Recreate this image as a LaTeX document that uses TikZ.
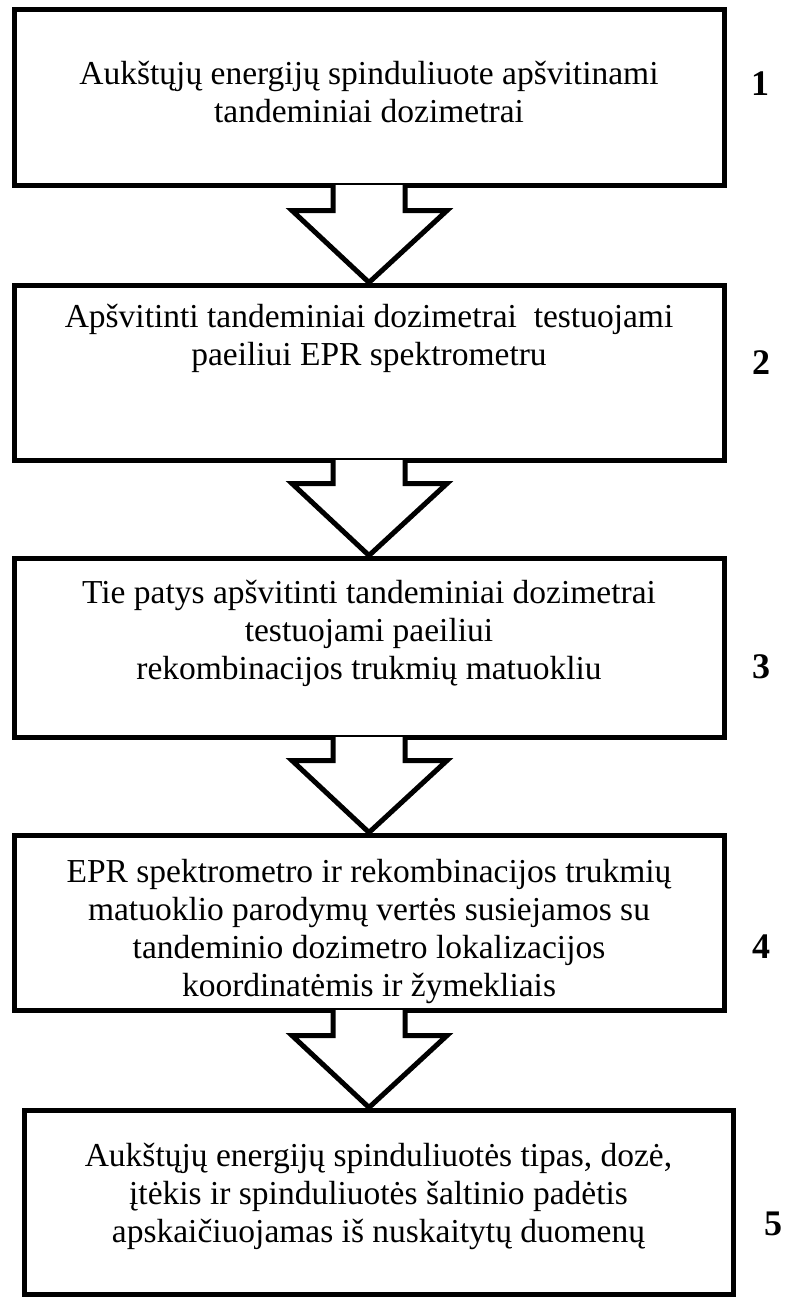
\documentclass[tikz,border=0pt]{standalone}
\usepackage{fontspec}
\setmainfont{Liberation Serif}
\usetikzlibrary{calc}
\newcommand\ls{\vrule height 27pt depth 11pt width 0pt\relax}
\tikzset{
  stepbox/.style={draw, line width=5pt, minimum width=710pt, inner sep=0pt},
  steptext/.style={align=center, font=\fontsize{33.5}{38}\selectfont, inner sep=0pt},
  stepnum/.style={font=\fontsize{36}{36}\selectfont\bfseries, inner sep=0pt},
  arrowline/.style={line width=5pt, line join=miter}
}
\newcommand\flowarrow[2]{%
  \fill[white] ($(#1.south)+(-36,-2.6)$) rectangle ($(#1.south)+(36,2.6)$);
  \coordinate (tip#1) at (#1.south |- #2.north);
  \draw[arrowline] ($(#1.south)+(-36,-2.5)$) -- ($(tip#1)+(-36,-72)$) -- ($(tip#1)+(-77,-72)$)
    -- (tip#1) -- ($(tip#1)+(78,-72)$) -- ($(tip#1)+(36,-72)$) -- ($(#1.south)+(36,-2.5)$);
}
\begin{document}
\begin{tikzpicture}[x=1pt,y=-1pt]
\useasboundingbox (0,0) rectangle (790,1298);
% boxes
\node[stepbox, minimum height=175pt] (b1) at (369,97.5) {};
\node[stepbox, minimum height=175pt] (b2) at (369,372.5) {};
\node[stepbox, minimum height=179pt] (b3) at (369,647.5) {};
\node[stepbox, minimum height=175pt] (b4) at (369,922.5) {};
\node[stepbox, minimum height=184pt, minimum width=709pt] (b5) at (378.5,1202) {};
% texts
\node[steptext] (t1) at (369,95) {\ls Aukštųjų energijų spinduliuote apšvitinami\\ \ls tandeminiai dozimetrai};
\node[steptext] (t2) at (369,338) {\ls Apšvitinti tandeminiai dozimetrai\ \ testuojami\\ \ls paeiliui EPR spektrometru};
\node[steptext] (t3) at (369,633) {\ls Tie patys apšvitinti tandeminiai dozimetrai\\ \ls testuojami paeiliui\\ \ls rekombinacijos trukmių matuokliu};
\node[steptext] (t4) at (369,931) {\ls EPR spektrometro ir rekombinacijos trukmių\\ \ls matuoklio parodymų vertės susiejamos su\\ \ls tandeminio dozimetro lokalizacijos\\ \ls koordinatėmis ir žymekliais};
\node[steptext] (t5) at (378.5,1196) {\ls Aukštųjų energijų spinduliuotės tipas, dozė,\\ \ls įtėkis ir spinduliuotės šaltinio padėtis\\ \ls apskaičiuojamas iš nuskaitytų duomenų};
% numbers
\node[stepnum] (n1) at (760,84) {1};
\node[stepnum] (n2) at (761,363) {2};
\node[stepnum] (n3) at (761,667) {3};
\node[stepnum] (n4) at (761,947) {4};
\node[stepnum] (n5) at (773,1224) {5};
% arrows
\flowarrow{b1}{b2}
\flowarrow{b2}{b3}
\flowarrow{b3}{b4}
\flowarrow{b4}{b5}
\end{tikzpicture}
\end{document}
